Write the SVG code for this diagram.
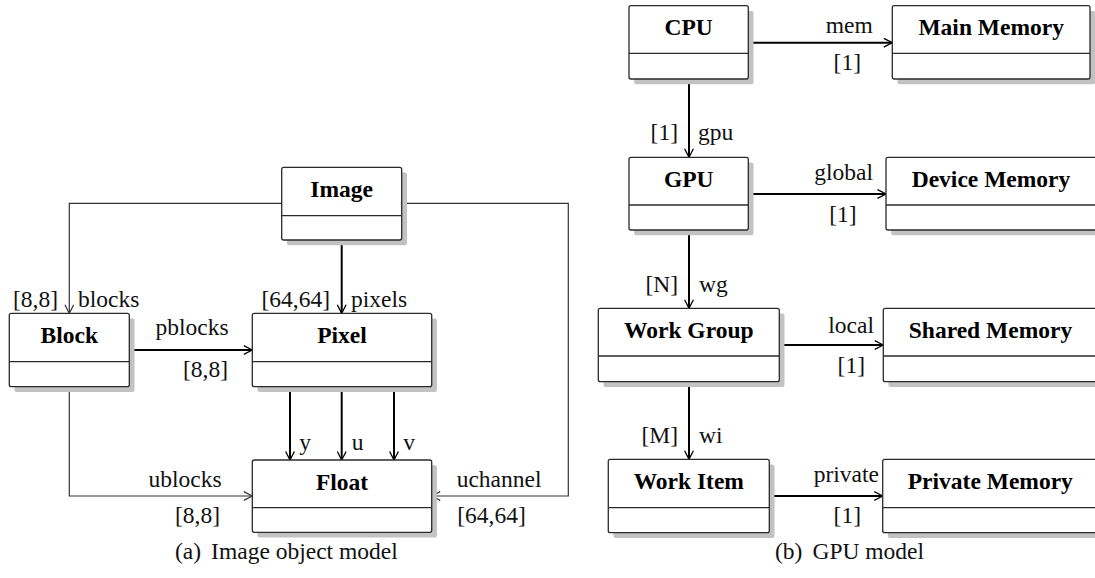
<svg xmlns="http://www.w3.org/2000/svg" width="1095" height="578" viewBox="0 0 1095 578">
  <defs>
    <style>
      .shadow { fill: #c2c2c2; }
      .box { fill: #ffffff; stroke: #2a2a2a; stroke-width: 1.3; }
      .div { stroke: #2a2a2a; stroke-width: 1.3; }
      text { font-family: 'Liberation Serif', 'DejaVu Serif', serif; font-size: 23.5px; fill: #111; }
      .name { font-weight: bold; text-anchor: middle; fill: #000; }
      .end { text-anchor: end; }
      .mid { text-anchor: middle; }
      .thick { fill: none; stroke: #000; stroke-width: 2; marker-end: url(#headThick); }
      .thin { fill: none; stroke: #333; stroke-width: 1.2; marker-end: url(#headThin); }
    </style>
    <marker id="headThick" viewBox="0 0 10 10" refX="9" refY="5" markerWidth="10" markerHeight="10" markerUnits="userSpaceOnUse" orient="auto">
      <path d="M0.5,0.6 L9,5 L0.5,9.4" fill="none" stroke="#000" stroke-width="1.3"/>
    </marker>
    <marker id="headThin" viewBox="0 0 10 10" refX="9" refY="5" markerWidth="10" markerHeight="10" markerUnits="userSpaceOnUse" orient="auto">
      <path d="M0.5,0.6 L9,5 L0.5,9.4" fill="none" stroke="#333" stroke-width="1.2"/>
    </marker>
  </defs>
  <rect width="1095" height="578" fill="#ffffff"/>

  <!-- connectors -->
  <g id="connectors">
    <!-- image object model -->
    <polyline class="thin" points="281.7,203.3 69.3,203.3 69.3,313.3"/>
    <line class="thick" x1="341.7" y1="240" x2="341.7" y2="313.3"/>
    <polyline class="thin" points="401.7,203.3 568.3,203.3 568.3,496 431.7,496"/>
    <line class="thick" x1="129.3" y1="350" x2="252.3" y2="350"/>
    <polyline class="thin" points="69.3,386.7 69.3,496 252.3,496"/>
    <line class="thick" x1="290" y1="386.7" x2="290" y2="460"/>
    <line class="thick" x1="341.7" y1="386.7" x2="341.7" y2="460"/>
    <line class="thick" x1="394" y1="386.7" x2="394" y2="460"/>
    <!-- gpu model -->
    <line class="thick" x1="748.3" y1="42.7" x2="892.3" y2="42.7"/>
    <line class="thick" x1="689" y1="79" x2="689" y2="157.3"/>
    <line class="thick" x1="748.3" y1="194" x2="886" y2="194"/>
    <line class="thick" x1="689" y1="230" x2="689" y2="308.3"/>
    <line class="thick" x1="779.3" y1="345" x2="883.3" y2="345"/>
    <line class="thick" x1="689" y1="381.7" x2="689" y2="459.3"/>
    <line class="thick" x1="769.3" y1="496" x2="882.7" y2="496"/>
  </g>

  <g id="connector-labels">
    <text class="end" x="58" y="306.7">[8,8]</text>
    <text x="78" y="306.7">blocks</text>
    <text class="end" x="330" y="306.7">[64,64]</text>
    <text x="351" y="306.7">pixels</text>
    <text class="mid" x="192" y="335">pblocks</text>
    <text class="end" x="228" y="376.7">[8,8]</text>
    <text x="299.3" y="450">y</text>
    <text x="351.7" y="450">u</text>
    <text x="403.3" y="450">v</text>
    <text class="end" x="221.7" y="486.7">ublocks</text>
    <text class="end" x="220" y="523.3">[8,8]</text>
    <text x="456.7" y="486.7">uchannel</text>
    <text x="457.3" y="523.3">[64,64]</text>

    <text class="end" x="872.7" y="33">mem</text>
    <text class="end" x="861" y="70">[1]</text>
    <text class="end" x="678" y="140">[1]</text>
    <text x="698" y="140">gpu</text>
    <text class="end" x="873" y="180">global</text>
    <text class="end" x="856.7" y="221.7">[1]</text>
    <text class="end" x="678" y="291.7">[N]</text>
    <text x="699" y="291.7">wg</text>
    <text class="end" x="874" y="333.3">local</text>
    <text class="end" x="865" y="373.3">[1]</text>
    <text class="end" x="678" y="443.3">[M]</text>
    <text x="699" y="443.3">wi</text>
    <text class="end" x="879" y="481.7">private</text>
    <text class="end" x="861" y="522.7">[1]</text>
  </g>

  <!-- class boxes: shadow, body, compartment divider, name -->
  <g id="image">
    <rect class="shadow" x="287" y="172.5" width="120" height="72.7" rx="2"/>
    <rect class="box" x="281.7" y="167.3" width="120" height="72.7" rx="2"/>
    <line class="div" x1="281.7" y1="215.7" x2="401.7" y2="215.7"/>
    <text class="name" x="341.7" y="196.7">Image</text>
  </g>
  <g id="block">
    <rect class="shadow" x="14.5" y="318.5" width="120" height="73.4" rx="2"/>
    <rect class="box" x="9.3" y="313.3" width="120" height="73.4" rx="2"/>
    <line class="div" x1="9.3" y1="361.7" x2="129.3" y2="361.7"/>
    <text class="name" x="69.3" y="343">Block</text>
  </g>
  <g id="pixel">
    <rect class="shadow" x="257.5" y="318.5" width="179.4" height="73.4" rx="2"/>
    <rect class="box" x="252.3" y="313.3" width="179.4" height="73.4" rx="2"/>
    <line class="div" x1="252.3" y1="361.7" x2="431.7" y2="361.7"/>
    <text class="name" x="342" y="343">Pixel</text>
  </g>
  <g id="float">
    <rect class="shadow" x="257.5" y="465.2" width="179.4" height="72.3" rx="2"/>
    <rect class="box" x="252.3" y="460" width="179.4" height="72.3" rx="2"/>
    <line class="div" x1="252.3" y1="507.7" x2="431.7" y2="507.7"/>
    <text class="name" x="342" y="490">Float</text>
  </g>

  <g id="cpu">
    <rect class="shadow" x="634.2" y="10.9" width="119.3" height="73.3" rx="2"/>
    <rect class="box" x="629" y="5.7" width="119.3" height="73.3" rx="2"/>
    <line class="div" x1="629" y1="53.3" x2="748.3" y2="53.3"/>
    <text class="name" x="688.7" y="35">CPU</text>
  </g>
  <g id="main-memory">
    <rect class="shadow" x="897.5" y="10.9" width="197.7" height="73.3" rx="2"/>
    <rect class="box" x="892.3" y="5.7" width="197.7" height="73.3" rx="2"/>
    <line class="div" x1="892.3" y1="53.3" x2="1090" y2="53.3"/>
    <text class="name" x="991.2" y="35">Main Memory</text>
  </g>
  <g id="gpu">
    <rect class="shadow" x="634.2" y="162.5" width="119.3" height="72.7" rx="2"/>
    <rect class="box" x="629" y="157.3" width="119.3" height="72.7" rx="2"/>
    <line class="div" x1="629" y1="205" x2="748.3" y2="205"/>
    <text class="name" x="688.7" y="186.8">GPU</text>
  </g>
  <g id="device-memory">
    <rect class="shadow" x="891.2" y="162.5" width="210" height="72.7" rx="2"/>
    <rect class="box" x="886" y="157.3" width="210.5" height="72.7" rx="2"/>
    <line class="div" x1="886" y1="205" x2="1096.5" y2="205"/>
    <text class="name" x="991" y="186.8">Device Memory</text>
  </g>
  <g id="work-group">
    <rect class="shadow" x="603.5" y="313.5" width="181" height="73.4" rx="2"/>
    <rect class="box" x="598.3" y="308.3" width="181" height="73.4" rx="2"/>
    <line class="div" x1="598.3" y1="356" x2="779.3" y2="356"/>
    <text class="name" x="688.8" y="337.8">Work Group</text>
  </g>
  <g id="shared-memory">
    <rect class="shadow" x="888.5" y="313.5" width="215" height="73.4" rx="2"/>
    <rect class="box" x="883.3" y="308.3" width="215" height="73.4" rx="2"/>
    <line class="div" x1="883.3" y1="356" x2="1098.3" y2="356"/>
    <text class="name" x="990.5" y="337.8">Shared Memory</text>
  </g>
  <g id="work-item">
    <rect class="shadow" x="613.5" y="464.5" width="161" height="73.4" rx="2"/>
    <rect class="box" x="608.3" y="459.3" width="161" height="73.4" rx="2"/>
    <line class="div" x1="608.3" y1="507.7" x2="769.3" y2="507.7"/>
    <text class="name" x="688.8" y="489">Work Item</text>
  </g>
  <g id="private-memory">
    <rect class="shadow" x="887.9" y="464.5" width="215" height="73.4" rx="2"/>
    <rect class="box" x="882.7" y="459.3" width="215" height="73.4" rx="2"/>
    <line class="div" x1="882.7" y1="507.7" x2="1097.7" y2="507.7"/>
    <text class="name" x="990.3" y="489">Private Memory</text>
  </g>

  <!-- sub-figure captions -->
  <g id="captions">
    <text x="175" y="559"><tspan>(a)</tspan><tspan dx="10">Image object model</tspan></text>
    <text x="775" y="559"><tspan>(b)</tspan><tspan dx="10">GPU model</tspan></text>
  </g>
</svg>
